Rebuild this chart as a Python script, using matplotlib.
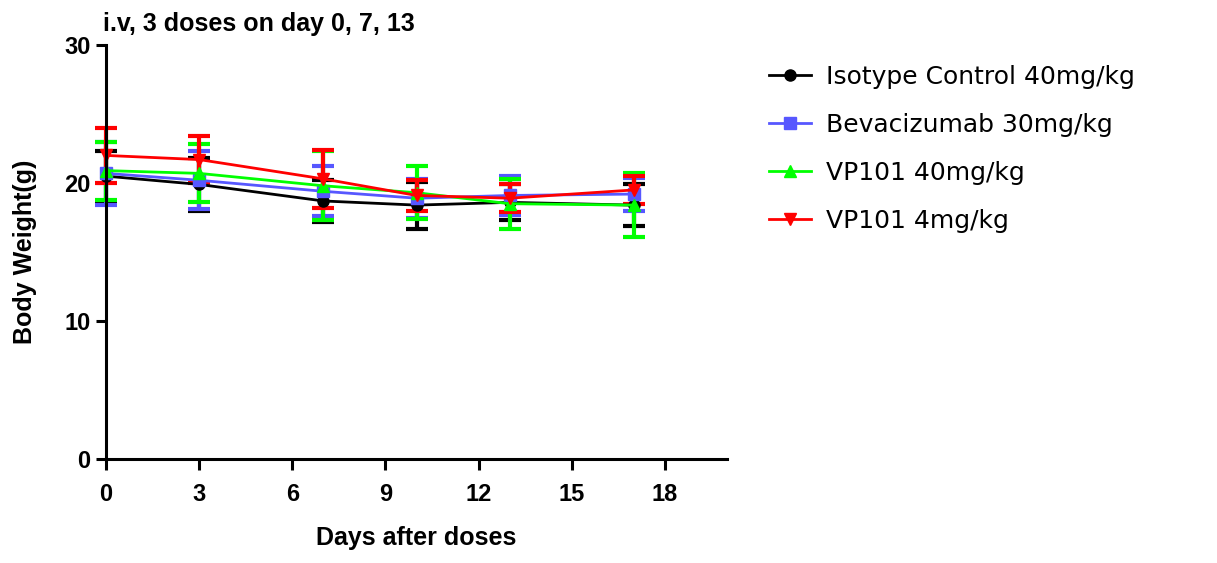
import numpy as np
import matplotlib.pyplot as plt

plt.rcParams['font.family'] = ['Liberation Sans', 'DejaVu Sans']

days = [0, 3, 7, 10, 13, 17]
groups = ['Isotype Control 40mg/kg', 'Bevacizumab 30mg/kg', 'VP101 40mg/kg', 'VP101 4mg/kg']
iso_mean = [20.5, 19.9, 18.7, 18.4, 18.6, 18.4]
iso_err = [1.8, 1.9, 1.5, 1.7, 1.3, 1.5]
bev_mean = [20.7, 20.2, 19.4, 18.9, 19.1, 19.2]
bev_err = [2.3, 2.1, 1.8, 1.4, 1.4, 1.2]
vp40_mean = [20.9, 20.7, 19.8, 19.3, 18.5, 18.4]
vp40_err = [2.1, 2.1, 2.5, 1.9, 1.8, 2.3]
vp4_mean = [22.0, 21.7, 20.3, 19.1, 18.9, 19.5]
vp4_err = [2.0, 1.7, 2.1, 1.1, 1.0, 1.0]

means = [iso_mean, bev_mean, vp40_mean, vp4_mean]
errs = [iso_err, bev_err, vp40_err, vp4_err]
colors = ['black', '#5757ff', '#00ff00', '#ff0000']
markers = ['o', 's', '^', 'v']

fig = plt.figure(figsize=(12.17, 5.63), dpi=100)
ax = fig.add_axes([0.0871, 0.1847, 0.5103, 0.7353])

for m, e, c, mk, g in zip(means, errs, colors, markers, groups):
    lines = ax.errorbar(days, m, yerr=e, color=c, marker=mk, markersize=8, lw=2,
                        elinewidth=3, capsize=8, capthick=3, label=g)
    for art in lines.get_children():
        art.set_clip_on(False)

ax.set_xlim(0, 20)
ax.set_ylim(0, 30)
ax.set_xticks([0, 3, 6, 9, 12, 15, 18])
ax.set_yticks([0, 10, 20, 30])
for s in ['top', 'right']:
    ax.spines[s].set_visible(False)
for s in ['left', 'bottom']:
    ax.spines[s].set_linewidth(2.2)
ax.tick_params(direction='out', length=7, width=2.2, labelsize=17, pad=4)
ax.tick_params(axis='x', length=8, pad=9)
for lab in ax.get_xticklabels() + ax.get_yticklabels():
    lab.set_fontweight('bold')

ax.set_xlabel('Days after doses', fontsize=18, fontweight='bold', labelpad=15)
ax.set_ylabel('Body Weight(g)', fontsize=18, fontweight='bold', labelpad=20)
fig.text(103 / 1217, 1 - 24 / 563, 'i.v, 3 doses on day 0, 7, 13', fontsize=18,
         fontweight='bold', ha='left', va='center')

handles, labels = ax.get_legend_handles_labels()
handles = [h[0] for h in handles]
fig.legend(handles, labels, loc='upper left', bbox_to_anchor=(0.613, 0.925),
           frameon=False, prop={'family': 'DejaVu Sans', 'size': 18},
           handlelength=1.7, labelspacing=0.96, handletextpad=0.6)

fig.savefig('out.png', dpi=100)
